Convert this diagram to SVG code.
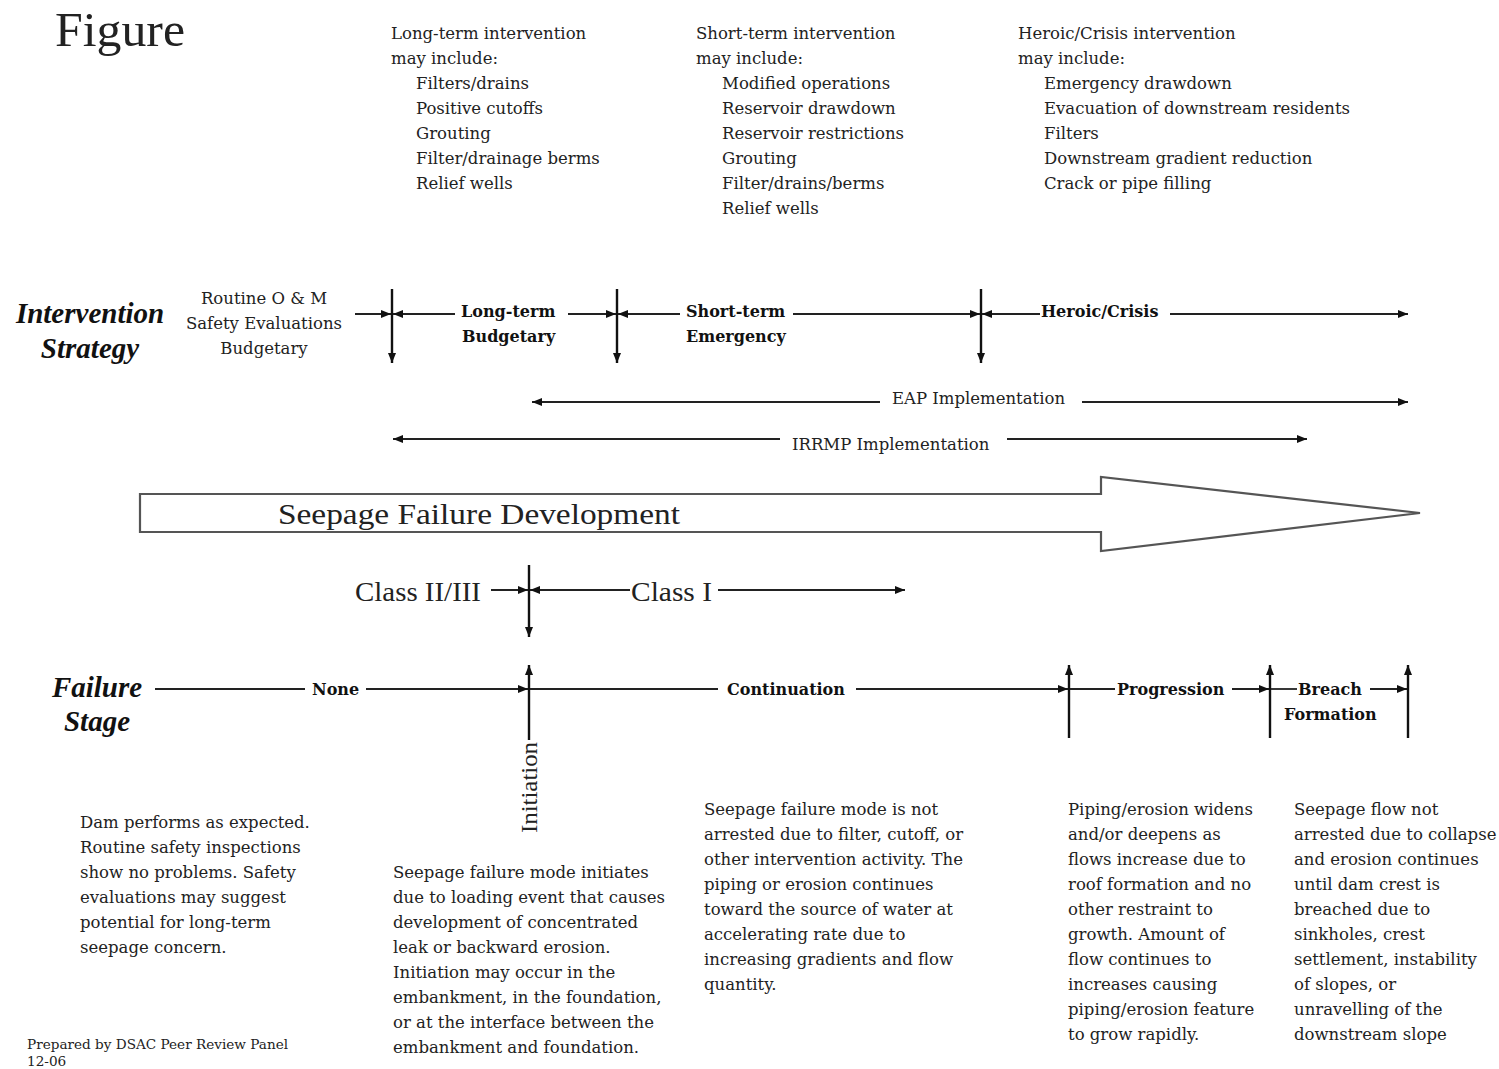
<svg xmlns="http://www.w3.org/2000/svg" width="1499" height="1069" viewBox="0 0 1499 1069">
<style>
.t{font-family:"DejaVu Serif","Liberation Serif",serif;font-size:16.5px;fill:#222}
.b{font-family:"DejaVu Serif","Liberation Serif",serif;font-size:16px;font-weight:bold;fill:#111}
.h{font-family:"Liberation Serif",serif;font-size:29px;font-weight:bold;font-style:italic;fill:#111}
.big{font-family:"Liberation Serif",serif;fill:#222}
.ln{stroke:#222;stroke-width:1.8;fill:none}
.vl{stroke:#111;stroke-width:2.4;fill:none}
</style>
<defs>
<marker id="a" viewBox="0 0 10 8" refX="10" refY="4" markerWidth="10" markerHeight="8" markerUnits="userSpaceOnUse" orient="auto-start-reverse"><path d="M0,0 L10,4 L0,8 Z" fill="#111"/></marker>
</defs>
<rect width="1499" height="1069" fill="#fff"/>

<g id="title"><text class="big" x="55" y="46" font-size="48" textLength="130" lengthAdjust="spacingAndGlyphs">Figure</text></g>

<g id="longterm-list" class="t">
<text x="391" y="39">Long-term intervention</text>
<text x="391" y="64">may include:</text>
<text x="416" y="89">Filters/drains</text>
<text x="416" y="114">Positive cutoffs</text>
<text x="416" y="139">Grouting</text>
<text x="416" y="164">Filter/drainage berms</text>
<text x="416" y="189">Relief wells</text>
</g>
<g id="shortterm-list" class="t">
<text x="696" y="39">Short-term intervention</text>
<text x="696" y="64">may include:</text>
<text x="722" y="89">Modified operations</text>
<text x="722" y="114">Reservoir drawdown</text>
<text x="722" y="139">Reservoir restrictions</text>
<text x="722" y="164">Grouting</text>
<text x="722" y="189">Filter/drains/berms</text>
<text x="722" y="214">Relief wells</text>
</g>
<g id="heroic-list" class="t">
<text x="1018" y="39">Heroic/Crisis intervention</text>
<text x="1018" y="64">may include:</text>
<text x="1044" y="89">Emergency drawdown</text>
<text x="1044" y="114">Evacuation of downstream residents</text>
<text x="1044" y="139">Filters</text>
<text x="1044" y="164">Downstream gradient reduction</text>
<text x="1044" y="189">Crack or pipe filling</text>
</g>

<g id="intervention-strategy-label" class="h" text-anchor="middle">
<text x="90" y="323">Intervention</text>
<text x="90" y="358">Strategy</text>
</g>
<g id="routine" class="t" text-anchor="middle">
<text x="264" y="304">Routine O &amp; M</text>
<text x="264" y="329">Safety Evaluations</text>
<text x="264" y="354">Budgetary</text>
</g>
<g id="longterm" class="b"><text x="461" y="317">Long-term</text><text x="462" y="342">Budgetary</text></g>
<g id="shortterm" class="b"><text x="686" y="317">Short-term</text><text x="686" y="342">Emergency</text></g>
<g id="heroic" class="b"><text x="1041" y="317">Heroic/Crisis</text></g>

<g id="eap"><text class="t" x="892" y="404">EAP Implementation</text></g>
<g id="irrmp"><text class="t" x="792" y="450">IRRMP Implementation</text></g>

<g id="seepage-arrow">
<polygon points="140,494 1101,494 1101,477 1420,513 1101,551 1101,532 140,532" fill="#fff" stroke="#555" stroke-width="2.2"/>
<text class="big" x="278" y="524" font-size="30" textLength="402" lengthAdjust="spacingAndGlyphs">Seepage Failure Development</text>
</g>

<g id="class23"><text class="big" x="355" y="601" font-size="28" textLength="126" lengthAdjust="spacingAndGlyphs">Class II/III</text></g>
<g id="class1"><text class="big" x="631" y="601" font-size="28" textLength="81" lengthAdjust="spacingAndGlyphs">Class I</text></g>

<g id="failure-stage-label" class="h" text-anchor="middle">
<text x="97" y="697">Failure</text>
<text x="97" y="731">Stage</text>
</g>
<g id="none"><text class="b" x="312" y="695">None</text></g>
<g id="initiation"><text class="big" font-size="23" textLength="91" lengthAdjust="spacingAndGlyphs" transform="translate(537,833) rotate(-90)">Initiation</text></g>
<g id="continuation"><text class="b" x="727" y="695">Continuation</text></g>
<g id="progression"><text class="b" x="1117" y="695">Progression</text></g>
<g id="breach"><text class="b" x="1298" y="695">Breach</text><text class="b" x="1284" y="720">Formation</text></g>

<g id="desc-none" class="t">
<text x="80" y="828">Dam performs as expected.</text>
<text x="80" y="853">Routine safety inspections</text>
<text x="80" y="878">show no problems.  Safety</text>
<text x="80" y="903">evaluations may suggest</text>
<text x="80" y="928">potential for long-term</text>
<text x="80" y="953">seepage concern.</text>
</g>
<g id="desc-initiation" class="t">
<text x="393" y="878">Seepage failure mode initiates</text>
<text x="393" y="903">due to loading event that causes</text>
<text x="393" y="928">development of concentrated</text>
<text x="393" y="953">leak or backward erosion.</text>
<text x="393" y="978">Initiation may occur in the</text>
<text x="393" y="1003">embankment, in the foundation,</text>
<text x="393" y="1028">or at the interface between the</text>
<text x="393" y="1053">embankment and foundation.</text>
</g>
<g id="desc-continuation" class="t">
<text x="704" y="815">Seepage failure mode is not</text>
<text x="704" y="840">arrested due to filter, cutoff, or</text>
<text x="704" y="865">other intervention activity.  The</text>
<text x="704" y="890">piping or erosion continues</text>
<text x="704" y="915">toward the source of water at</text>
<text x="704" y="940">accelerating rate due to</text>
<text x="704" y="965">increasing gradients and flow</text>
<text x="704" y="990">quantity.</text>
</g>
<g id="desc-progression" class="t">
<text x="1068" y="815">Piping/erosion widens</text>
<text x="1068" y="840">and/or deepens as</text>
<text x="1068" y="865">flows increase due to</text>
<text x="1068" y="890">roof formation and no</text>
<text x="1068" y="915">other restraint to</text>
<text x="1068" y="940">growth.  Amount of</text>
<text x="1068" y="965">flow continues to</text>
<text x="1068" y="990">increases causing</text>
<text x="1068" y="1015">piping/erosion feature</text>
<text x="1068" y="1040">to grow rapidly.</text>
</g>
<g id="desc-breach" class="t">
<text x="1294" y="815">Seepage flow not</text>
<text x="1294" y="840">arrested due to collapse</text>
<text x="1294" y="865">and erosion continues</text>
<text x="1294" y="890">until dam crest is</text>
<text x="1294" y="915">breached due to</text>
<text x="1294" y="940">sinkholes, crest</text>
<text x="1294" y="965">settlement, instability</text>
<text x="1294" y="990">of slopes, or</text>
<text x="1294" y="1015">unravelling of the</text>
<text x="1294" y="1040">downstream slope</text>
</g>
<g id="footer" class="t">
<text x="27" y="1049" font-size="13.6">Prepared by DSAC Peer Review Panel</text>
<text x="27" y="1066" font-size="13.6">12-06</text>
</g>

<g id="connectors">
<line class="ln" x1="355" y1="314" x2="391" y2="314" marker-end="url(#a)"/>
<line class="vl" x1="392" y1="289" x2="392" y2="363" marker-end="url(#a)"/>
<line class="ln" x1="455" y1="314" x2="393" y2="314" marker-end="url(#a)"/>
<line class="ln" x1="568" y1="314" x2="616" y2="314" marker-end="url(#a)"/>
<line class="vl" x1="617" y1="289" x2="617" y2="363" marker-end="url(#a)"/>
<line class="ln" x1="680" y1="314" x2="618" y2="314" marker-end="url(#a)"/>
<line class="ln" x1="793" y1="314" x2="980" y2="314" marker-end="url(#a)"/>
<line class="vl" x1="981" y1="289" x2="981" y2="363" marker-end="url(#a)"/>
<line class="ln" x1="1040" y1="314" x2="982" y2="314" marker-end="url(#a)"/>
<line class="ln" x1="1170" y1="314" x2="1408" y2="314" marker-end="url(#a)"/>

<line class="ln" x1="532" y1="402" x2="880" y2="402" marker-start="url(#a)"/>
<line class="ln" x1="1082" y1="402" x2="1408" y2="402" marker-end="url(#a)"/>
<line class="ln" x1="393" y1="439" x2="780" y2="439" marker-start="url(#a)"/>
<line class="ln" x1="1007" y1="439" x2="1307" y2="439" marker-end="url(#a)"/>

<line class="ln" x1="491" y1="590" x2="528" y2="590" marker-end="url(#a)"/>
<line class="vl" x1="529" y1="565" x2="529" y2="637" marker-end="url(#a)"/>
<line class="ln" x1="630" y1="590" x2="530" y2="590" marker-end="url(#a)"/>
<line class="ln" x1="718" y1="590" x2="905" y2="590" marker-end="url(#a)"/>

<line class="ln" x1="155" y1="689" x2="305" y2="689"/>
<line class="ln" x1="366" y1="689" x2="528" y2="689" marker-end="url(#a)"/>
<line class="vl" x1="529" y1="740" x2="529" y2="665" marker-end="url(#a)"/>
<line class="ln" x1="530" y1="689" x2="718" y2="689"/>
<line class="ln" x1="856" y1="689" x2="1068" y2="689" marker-end="url(#a)"/>
<line class="vl" x1="1069" y1="738" x2="1069" y2="665" marker-end="url(#a)"/>
<line class="ln" x1="1070" y1="689" x2="1115" y2="689"/>
<line class="ln" x1="1232" y1="689" x2="1269" y2="689" marker-end="url(#a)"/>
<line class="vl" x1="1270" y1="738" x2="1270" y2="665" marker-end="url(#a)"/>
<line class="ln" x1="1271" y1="689" x2="1297" y2="689"/>
<line class="ln" x1="1370" y1="689" x2="1407" y2="689" marker-end="url(#a)"/>
<line class="vl" x1="1408" y1="738" x2="1408" y2="665" marker-end="url(#a)"/>
</g>
</svg>
